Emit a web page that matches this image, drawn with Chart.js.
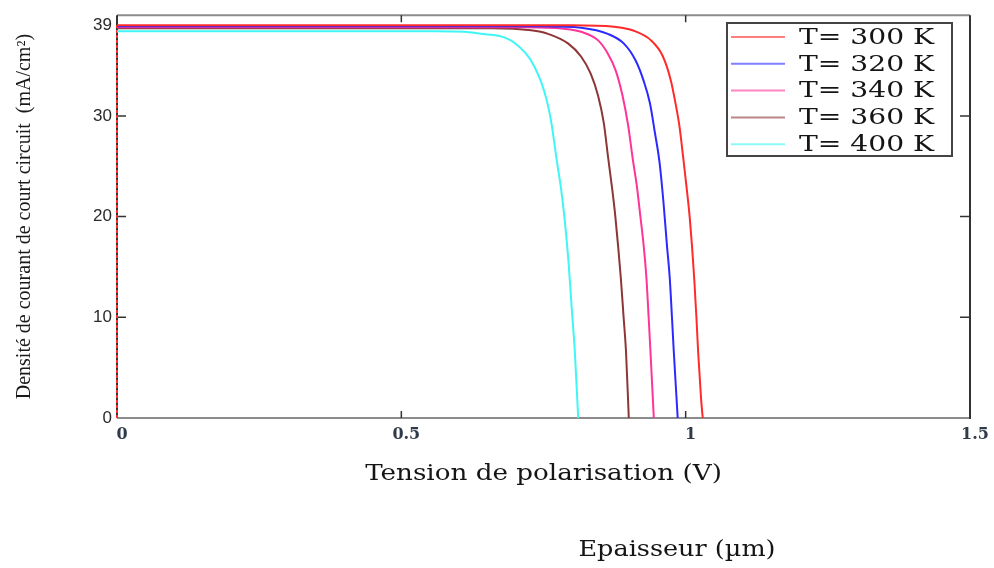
<!DOCTYPE html>
<html>
<head>
<meta charset="utf-8">
<script src="https://cdn.jsdelivr.net/npm/chart.js@4.4.1/dist/chart.umd.min.js"></script>
<style>
  html, body { margin: 0; padding: 0; background: #fff; }
</style>
</head>
<body>
<canvas id="jv" width="994" height="568"></canvas>
<script>
// J-V curves, current density (mA/cm2) against bias (V)
const labels = ['T= 300 K', 'T= 320 K', 'T= 340 K', 'T= 360 K', 'T= 400 K'];
const colors = ['#ff2a2a', '#2a2aff', '#ff3399', '#8e3535', '#3ff5f5'];

const v300 = [0, 0.80, 0.874, 0.909, 0.939, 0.960, 0.974, 0.982, 0.989, 0.996, 1.002, 1.007, 1.011, 1.015, 1.019, 1.022, 1.027, 1.030];
const j300 = [39.0, 39.0, 38.85, 38.45, 37.5, 35.9, 33.5, 31.3, 29.0, 25.7, 22.7, 20.0, 17.2, 13.9, 9.9, 6.5, 2.0, 0];

const v320 = [0, 0.75, 0.816, 0.863, 0.891, 0.912, 0.926, 0.937, 0.946, 0.954, 0.961, 0.967, 0.972, 0.976, 0.979, 0.986];
const j320 = [38.9, 38.9, 38.75, 38.15, 37.2, 35.5, 33.5, 31.3, 28.3, 25.4, 21.4, 17.2, 13.9, 9.9, 6.7, 0];

const v340 = [0, 0.72, 0.786, 0.816, 0.846, 0.863, 0.877, 0.889, 0.899, 0.907, 0.914, 0.920, 0.926, 0.931, 0.935, 0.938, 0.944];
const j340 = [38.8, 38.8, 38.65, 38.35, 37.5, 36.2, 34.5, 32.0, 29.0, 25.7, 23.1, 20.2, 17.2, 13.9, 9.9, 6.7, 0];

const v360 = [0, 0.66, 0.728, 0.758, 0.793, 0.816, 0.833, 0.846, 0.856, 0.864, 0.870, 0.876, 0.881, 0.886, 0.891, 0.895, 0.900];
const j360 = [38.7, 38.7, 38.5, 38.15, 37.2, 35.9, 34.2, 32.0, 29.3, 25.7, 23.1, 20.2, 17.2, 13.9, 9.9, 6.7, 0];

const v400 = [0, 0.56, 0.611, 0.640, 0.675, 0.698, 0.728, 0.751, 0.763, 0.773, 0.781, 0.787, 0.794, 0.800, 0.805, 0.811];
const j400 = [38.4, 38.4, 38.35, 38.15, 37.9, 37.3, 35.5, 32.5, 29.6, 25.7, 22.7, 19.8, 15.5, 10.6, 6.7, 0];

// the vertical trace along V = 0
const vZero = [0, 0];
const jZero = [0, 39.0];

const xTicks = [0, 0.5, 1, 1.5];
const yTicks = [0, 10, 20, 30, 39];

const series = [[v300, j300], [v320, j320], [v340, j340], [v360, j360], [v400, j400]];

const datasets = series.map(([v, j], i) => ({
  label: labels[i],
  data: v.map((x, k) => ({ x: x, y: j[k] })),
  borderColor: colors[i],
  borderWidth: 2,
  pointRadius: 0,
  cubicInterpolationMode: 'monotone',
  fill: false
}));
datasets.push({
  label: '',
  data: vZero.map((x, k) => ({ x: x, y: jZero[k] })),
  borderColor: '#ff2a2a',
  borderWidth: 2,
  borderDash: [3, 2],
  pointRadius: 0,
  clip: 4,
  fill: false
});

function wideText(ctx, text, x, y, align, sx) {
  ctx.save();
  ctx.translate(x, y);
  ctx.scale(sx, 1);
  ctx.textAlign = align;
  ctx.fillText(text, 0, 0);
  ctx.restore();
}

// box round the plot, inward tick marks, legend box and captions
const frame = {
  id: 'frame',
  beforeDatasetsDraw(chart) {
    const { ctx, chartArea: a, scales: { x, y } } = chart;
    ctx.save();
    ctx.lineWidth = 2;
    ctx.strokeStyle = '#8c8c8c';
    ctx.beginPath();
    ctx.moveTo(a.left, a.top); ctx.lineTo(a.right, a.top);
    ctx.moveTo(a.left, a.bottom); ctx.lineTo(a.right, a.bottom);
    ctx.stroke();
    ctx.strokeStyle = '#333';
    ctx.beginPath();
    ctx.moveTo(a.left, a.top); ctx.lineTo(a.left, a.bottom);
    ctx.moveTo(a.right, a.top); ctx.lineTo(a.right, a.bottom + 1);
    ctx.stroke();

    ctx.lineWidth = 1.5;
    ctx.beginPath();
    [0.5, 1].forEach(v => {
      const px = x.getPixelForValue(v);
      ctx.moveTo(px, a.bottom); ctx.lineTo(px, a.bottom - 7);
      ctx.moveTo(px, a.top); ctx.lineTo(px, a.top + 7);
    });
    [10, 20, 30].forEach(v => {
      const py = y.getPixelForValue(v);
      ctx.moveTo(a.left, py); ctx.lineTo(a.left + 9, py);
      ctx.moveTo(a.right, py); ctx.lineTo(a.right - 10, py);
    });
    ctx.stroke();
    ctx.restore();
  },
  afterDraw(chart) {
    const { ctx, chartArea: a } = chart;
    ctx.save();
    // legend
    ctx.lineWidth = 2;
    ctx.strokeStyle = '#444';
    ctx.strokeRect(727, 23, 225, 133);
    ctx.font = '22px "DejaVu Serif"';
    ctx.textBaseline = 'middle';
    ctx.fillStyle = '#151515';
    labels.forEach((lab, i) => {
      const ly = 37 + i * 26.8;
      ctx.strokeStyle = colors[i];
      ctx.globalAlpha = 0.6;
      ctx.beginPath();
      ctx.moveTo(731, ly); ctx.lineTo(785, ly);
      ctx.stroke();
      ctx.globalAlpha = 1;
      wideText(ctx, lab, 799, ly + 1, 'left', 1.28);
    });
    // axis caption and the extra caption under it
    wideText(ctx, 'Tension de polarisation (V)', (a.left + a.right) / 2, 474, 'center', 1.19);
    wideText(ctx, 'Epaisseur (\u00b5m)', 677, 550, 'center', 1.16);
    ctx.restore();
  }
};

new Chart(document.getElementById('jv'), {
  type: 'line',
  data: { datasets: datasets },
  options: {
    responsive: false,
    animation: false,
    layout: { padding: { top: 12, right: 24, left: 0, bottom: 0 } },
    plugins: {
      legend: { display: false },
      tooltip: { enabled: false }
    },
    scales: {
      x: {
        type: 'linear',
        min: 0,
        max: 1.5,
        afterBuildTicks: s => { s.ticks = xTicks.map(v => ({ value: v })); },
        afterFit: s => { s.height = 150; },
        grid: { display: false, drawTicks: false },
        border: { display: false },
        ticks: {
          labelOffset: 5,
          padding: 7,
          color: '#2f3a4a',
          font: { family: 'DejaVu Serif', size: 16, weight: 'bold' },
          callback: v => String(v)
        }
      },
      y: {
        min: 0,
        max: 40,
        afterBuildTicks: s => { s.ticks = yTicks.map(v => ({ value: v })); },
        afterFit: s => { s.width = 117; },
        grid: { display: false, drawTicks: false },
        border: { display: false },
        ticks: {
          padding: 5,
          color: '#2a2a2a',
          font: { family: 'Liberation Sans', size: 17 },
          callback: v => String(v)
        },
        title: {
          display: true,
          text: 'Densit\u00e9 de courant de court circuit  (mA/cm\u00b2)',
          color: '#1a1a1a',
          font: { family: 'Liberation Serif', size: 20 },
          padding: { top: 13 }
        }
      }
    }
  },
  plugins: [frame]
});
</script>
</body>
</html>
